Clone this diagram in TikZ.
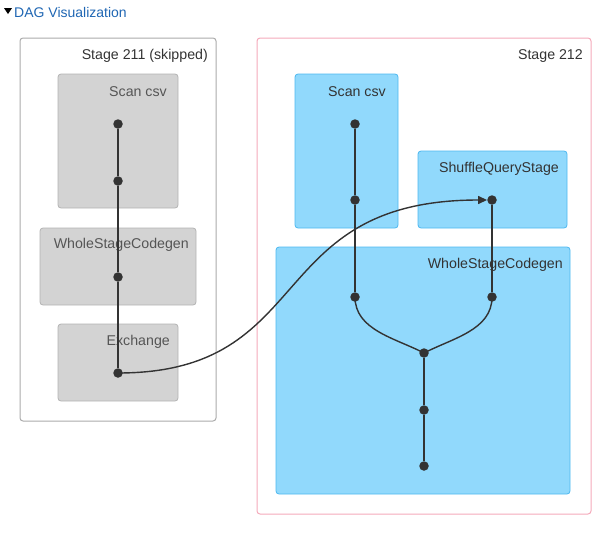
\documentclass[tikz,border=0pt]{standalone}
\usepackage{fontspec}
\setmainfont{Liberation Sans}
\usetikzlibrary{arrows.meta,shapes}
\definecolor{LinkBlue}{HTML}{1F66B3}
\definecolor{SkipFill}{HTML}{D3D3D3}
\definecolor{SkipLine}{HTML}{B3B3B3}
\definecolor{SkipText}{HTML}{555555}
\definecolor{RunFill}{HTML}{91D9FC}
\definecolor{RunLine}{HTML}{4DB8F0}
\definecolor{StageGray}{HTML}{ABABAB}
\definecolor{StagePink}{HTML}{F4A9BA}
\definecolor{EdgeDark}{HTML}{333333}
\tikzset{
    stagebox/.style = {draw, line width=1pt, rounded corners=3pt},
    skipbox/.style = {draw=SkipLine, fill=SkipFill, line width=0.8pt, rounded corners=3pt},
    runbox/.style = {draw=RunLine, fill=RunFill, line width=0.8pt, rounded corners=3pt},
    lbl/.style = {anchor=east, inner sep=0pt, font=\fontsize{14.2}{16}\selectfont},
    op/.style = {circle, fill=EdgeDark, inner sep=0pt, minimum size=9.5pt},
    flow/.style = {draw=EdgeDark, line width=1.4pt},
    xflow/.style = {flow, -{Triangle[length=9pt,width=8pt]}}
}
\begin{document}
\begin{tikzpicture}[x=1pt,y=-1pt]
    \useasboundingbox (0,0) rectangle (609,538);
    % header
    \fill (4,8) -- (12,8) -- (8,14) -- cycle;
    \node[anchor=base west, inner sep=0pt, text=LinkBlue, font=\fontsize{14}{16}\selectfont] (hdr) at (14,17) {DAG Visualization};

    % stage 211
    \draw[stagebox, draw=StageGray] (20,38) rectangle (216,421);
    \node[lbl, text=EdgeDark] (s211) at (208,56) {Stage 211 (skipped)};
    \draw[skipbox] (58,74) rectangle (178,208);
    \node[lbl, text=SkipText] (ascan) at (167,92) {Scan csv};
    \draw[skipbox] (40,228) rectangle (196,305);
    \node[lbl, text=SkipText] (awhole) at (189,245) {WholeStageCodegen};
    \draw[skipbox] (58,324) rectangle (178,401);
    \node[lbl, text=SkipText] (aexch) at (170,342) {Exchange};

    % stage 212
    \draw[stagebox, draw=StagePink] (257,38) rectangle (591,514);
    \node[lbl, text=EdgeDark] (s212) at (583,56) {Stage 212};
    \draw[runbox] (295,74) rectangle (398,228);
    \node[lbl, text=EdgeDark] (bscan) at (386,92) {Scan csv};
    \draw[runbox] (418,151) rectangle (567,228);
    \node[lbl, text=EdgeDark] (bshuf) at (559,169) {ShuffleQueryStage};
    \draw[runbox] (276,247) rectangle (570,494);
    \node[lbl, text=EdgeDark] (bwhole) at (563,265) {WholeStageCodegen};

    % operators
    \node[op] (a1) at (118,124) {};
    \node[op] (a2) at (118,181) {};
    \node[op] (a3) at (118,277) {};
    \node[op] (a4) at (118,373) {};
    \node[op] (b1) at (355,124) {};
    \node[op] (b2) at (355,200) {};
    \node[op] (b3) at (355,297) {};
    \node[op] (c1) at (492,200) {};
    \node[op] (c2) at (492,297) {};
    \node[op] (d1) at (424,353) {};
    \node[op] (d2) at (424,410) {};
    \node[op] (d3) at (424,466) {};

    % edges
    \draw[flow] (a1) -- (a2) -- (a3) -- (a4);
    \draw[flow] (b1) -- (b2) -- (b3);
    \draw[flow] (c1) -- (c2);
    \draw[flow] (b3.center) .. controls (355,330) and (395,338) .. (d1.center);
    \draw[flow] (c2.center) .. controls (492,330) and (453,338) .. (d1.center);
    \draw[flow] (d1) -- (d2) -- (d3);
    \draw[xflow] (a4.center) .. controls (318,373) and (262,200) .. (c1);
\end{tikzpicture}
\end{document}
